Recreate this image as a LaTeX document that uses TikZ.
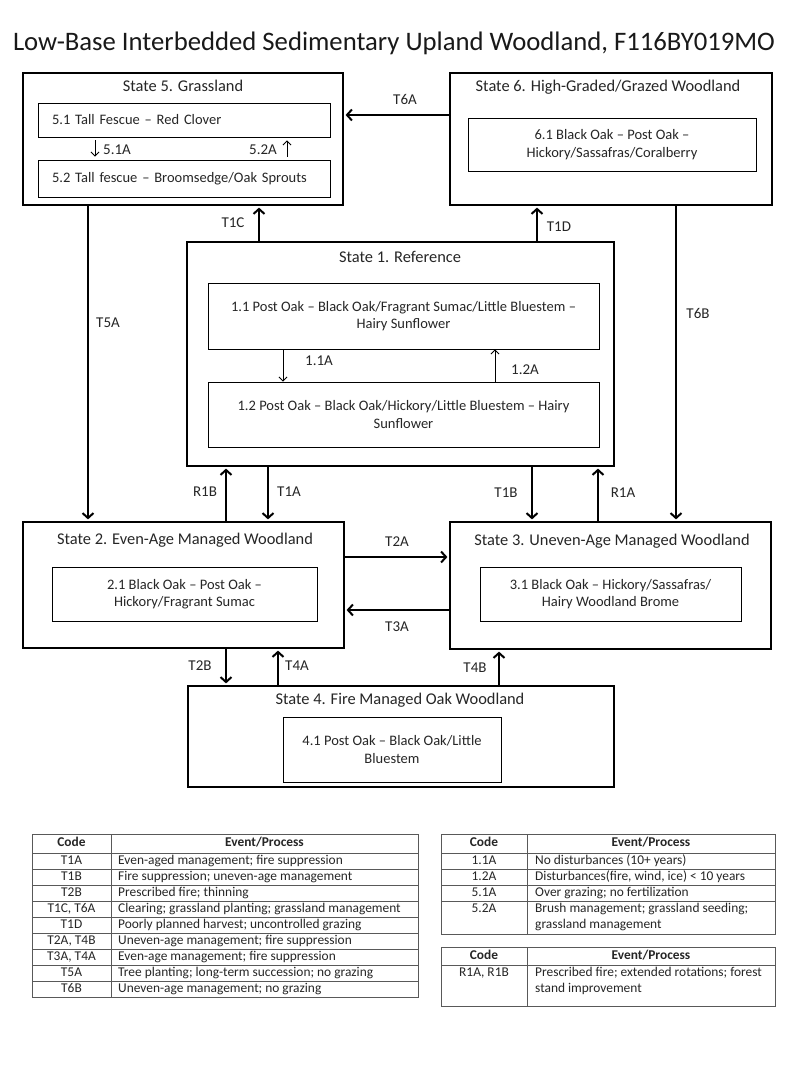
\documentclass[tikz,border=0pt]{standalone}
\usepackage{fontspec}
\setmainfont{Carlito}
\usetikzlibrary{arrows.meta,calc}
\begin{document}
\begin{tikzpicture}[x=1pt,y=-1pt,
  state/.style={draw=black, line width=2.8pt, inner sep=0pt},
  inbox/.style={draw=black, line width=0.9pt, inner sep=0pt, align=center, font=\fontsize{14.5}{17.5}\selectfont, text=black!85},
  stitle/.style={font=\fontsize{16.4}{19}\selectfont, inner sep=0pt, text=black!85, text height=11pt, text depth=3.5pt},
  lbl/.style={font=\fontsize{15}{18}\selectfont, inner sep=0pt, text=black!85, text height=10pt, text depth=0pt},
  arr/.style={line width=2pt, -{Straight Barb[length=5pt,width=11pt]}, shorten >=1.2pt},
  tarr/.style={line width=0.9pt, -{Straight Barb[length=4pt,width=8pt]}},
  tline/.style={draw=black!65, line width=1pt},
  tcell/.style={font=\fontsize{13.4}{16}\selectfont, inner sep=0pt, text=black!85, text height=9.5pt, text depth=3pt},
  thead/.style={font=\bfseries\fontsize{13.4}{16}\selectfont, inner sep=0pt, text=black!85, text height=9.5pt, text depth=3pt},
]
\useasboundingbox[fill=white] (0,0) rectangle (800,1067);

% title
\node[font=\fontsize{26.7}{30}\selectfont, inner sep=0pt, text=black!90] (title) at (394,43)
  {Low-Base Interbedded Sedimentary Upland Woodland, F116BY019MO};

% states
\node[state, minimum width=320pt, minimum height=132pt] (S5) at (183,139) {};
\node[state, minimum width=322pt, minimum height=132pt] (S6) at (611,139) {};
\node[state, minimum width=427pt, minimum height=224pt] (S1) at (400.5,354) {};
\node[state, minimum width=321pt, minimum height=126pt] (S2) at (183.5,585) {};
\node[state, minimum width=321pt, minimum height=127pt] (S3) at (610.5,585.5) {};
\node[state, minimum width=426pt, minimum height=101pt] (S4) at (401,736.5) {};

% state titles
\node[stitle] (S5t) at (183,88) {State 5. Grassland};
\node[stitle] (S6t) at (608,88) {State 6. High-Graded/Grazed Woodland};
\node[stitle] (S1t) at (400,259) {State 1. Reference};
\node[stitle] (S2t) at (185,541) {State 2. Even-Age Managed Woodland};
\node[stitle] (S3t) at (612,542) {State 3. Uneven-Age Managed Woodland};
\node[stitle] (S4t) at (400,701) {State 4. Fire Managed Oak Woodland};

% community phases
\node[inbox, align=left, text width=264pt, inner xsep=14pt, minimum height=34pt] (I51) at (184,120) {5.1 Tall Fescue -- Red Clover};
\node[inbox, align=left, text width=264pt, inner xsep=14pt, minimum height=37pt] (I52) at (184,178.5) {5.2 Tall fescue -- Broomsedge/Oak Sprouts};
\node[inbox, minimum width=288pt, minimum height=53pt] (I61) at (612,144.5) {6.1 Black Oak -- Post Oak --\\Hickory/Sassafras/Coralberry};
\node[inbox, minimum width=391pt, minimum height=66pt] (I11) at (403.5,316) {1.1 Post Oak -- Black Oak/Fragrant Sumac/Little Bluestem --\\Hairy Sunflower};
\node[inbox, minimum width=391pt, minimum height=65pt] (I12) at (403.5,414.5) {1.2 Post Oak -- Black Oak/Hickory/Little Bluestem -- Hairy\\Sunflower};
\node[inbox, minimum width=265pt, minimum height=54pt] (I21) at (184.5,594) {2.1 Black Oak -- Post Oak --\\Hickory/Fragrant Sumac};
\node[inbox, minimum width=261pt, minimum height=54pt] (I31) at (610.5,594) {3.1 Black Oak -- Hickory/Sassafras/\\Hairy Woodland Brome};
\node[inbox, minimum width=218pt, minimum height=65pt] (I41) at (392,749.5) {4.1 Post Oak -- Black Oak/Little\\Bluestem};

% x / y positions of connectors
\coordinate (x51A) at (95,0);
\coordinate (x52A) at (287,0);
\coordinate (x11A) at (283,0);
\coordinate (x12A) at (495,0);
\coordinate (xT1C) at (259,0);
\coordinate (xT1D) at (537,0);
\coordinate (xT5A) at (88,0);
\coordinate (xT6B) at (676,0);
\coordinate (xR1B) at (226,0);
\coordinate (xT1A) at (268,0);
\coordinate (xT1B) at (532,0);
\coordinate (xR1A) at (598,0);
\coordinate (xT2B) at (226,0);
\coordinate (xT4A) at (278,0);
\coordinate (xT4B) at (499,0);
\coordinate (yT6A) at (0,115);
\coordinate (yT2A) at (0,557);
\coordinate (yT3A) at (0,610);

% phase transitions
\draw[tarr, shorten <=3pt, shorten >=3pt] (I51.south -| x51A) -- (I52.north -| x51A);
\draw[tarr, shorten <=3pt, shorten >=3pt] (I52.north -| x52A) -- (I51.south -| x52A);
\draw[tarr] (I11.south -| x11A) -- (I12.north -| x11A);
\draw[tarr] (I12.north -| x12A) -- (I11.south -| x12A);

% state transitions
\draw[arr] (S6.west |- yT6A) -- (S5.east |- yT6A);
\draw[arr] (S1.north -| xT1C) -- (S5.south -| xT1C);
\draw[arr] (S1.north -| xT1D) -- (S6.south -| xT1D);
\draw[arr] (S5.south -| xT5A) -- (S2.north -| xT5A);
\draw[arr] (S6.south -| xT6B) -- (S3.north -| xT6B);
\draw[arr] (S2.north -| xR1B) -- (S1.south -| xR1B);
\draw[arr] (S1.south -| xT1A) -- (S2.north -| xT1A);
\draw[arr] (S1.south -| xT1B) -- (S3.north -| xT1B);
\draw[arr] (S3.north -| xR1A) -- (S1.south -| xR1A);
\draw[arr] (S2.east |- yT2A) -- (S3.west |- yT2A);
\draw[arr] (S3.west |- yT3A) -- (S2.east |- yT3A);
\draw[arr] (S2.south -| xT2B) -- (S4.north -| xT2B);
\draw[arr] (S4.north -| xT4A) -- (S2.south -| xT4A);
\draw[arr] (S4.north -| xT4B) -- (S3.south -| xT4B);

% labels
\node[lbl] (L51A) at (117,150) {5.1A};
\node[lbl] (L52A) at (263,150) {5.2A};
\node[lbl] (L11A) at (319,360) {1.1A};
\node[lbl] (L12A) at (525,369) {1.2A};
\node[lbl] (LT6A) at (405,100) {T6A};
\node[lbl] (LT1C) at (233,223) {T1C};
\node[lbl] (LT1D) at (559,227) {T1D};
\node[lbl] (LT5A) at (108,322) {T5A};
\node[lbl] (LT6B) at (698,313) {T6B};
\node[lbl] (LR1B) at (205,491) {R1B};
\node[lbl] (LT1A) at (289,491) {T1A};
\node[lbl] (LT1B) at (506,492) {T1B};
\node[lbl] (LR1A) at (623,492) {R1A};
\node[lbl] (LT2A) at (397,541) {T2A};
\node[lbl] (LT3A) at (397,626) {T3A};
\node[lbl] (LT2B) at (200,665) {T2B};
\node[lbl] (LT4A) at (297,665) {T4A};
\node[lbl] (LT4B) at (475,667) {T4B};

% ---- left table ----
\draw[tline] (32,834) rectangle (418,997);
\draw[tline] (111,834) -- (111,997);
\foreach \yy in {853,869,885,901,917,933,949,965,981} \draw[tline] (32,\yy) -- (418,\yy);
\node[thead] at (71.5,843.5) {Code};
\node[thead] at (264.5,843.5) {Event/Process};
\foreach \c/\e [count=\i] in {T1A/Even-aged management; fire suppression,
  T1B/Fire suppression; uneven-age management,
  T2B/Prescribed fire; thinning,
  {T1C, T6A}/Clearing; grassland planting; grassland management,
  T1D/Poorly planned harvest; uncontrolled grazing,
  {T2A, T4B}/Uneven-age management; fire suppression,
  {T3A, T4A}/Even-age management; fire suppression,
  T5A/Tree planting; long-term succession; no grazing,
  T6B/Uneven-age management; no grazing}{
  \node[tcell] at (71.5,845+16*\i) {\c};
  \node[tcell, anchor=west] at (118,845+16*\i) {\e};
}

% ---- right table 1 ----
\draw[tline] (441,834) rectangle (775,934);
\draw[tline] (527,834) -- (527,934);
\foreach \yy in {853,869,885,901} \draw[tline] (441,\yy) -- (775,\yy);
\node[thead] at (484,843.5) {Code};
\node[thead] at (651,843.5) {Event/Process};
\node[tcell] at (484,861) {1.1A};
\node[tcell, anchor=west] at (535,861) {No disturbances (10+ years)};
\node[tcell] at (484,877) {1.2A};
\node[tcell, anchor=west] at (535,877) {Disturbances(fire, wind, ice) < 10 years};
\node[tcell] at (484,893) {5.1A};
\node[tcell, anchor=west] at (535,893) {Over grazing; no fertilization};
\node[tcell] at (484,909) {5.2A};
\node[tcell, anchor=west] at (535,909) {Brush management; grassland seeding;};
\node[tcell, anchor=west] at (535,925) {grassland management};

% ---- right table 2 ----
\draw[tline] (441,947) rectangle (775,1006);
\draw[tline] (527,947) -- (527,1006);
\draw[tline] (441,965) -- (775,965);
\node[thead] at (484,956) {Code};
\node[thead] at (651,956) {Event/Process};
\node[tcell] at (484,973) {R1A, R1B};
\node[tcell, anchor=west] at (535,973) {Prescribed fire; extended rotations; forest};
\node[tcell, anchor=west] at (535,989) {stand improvement};
\end{tikzpicture}
\end{document}
